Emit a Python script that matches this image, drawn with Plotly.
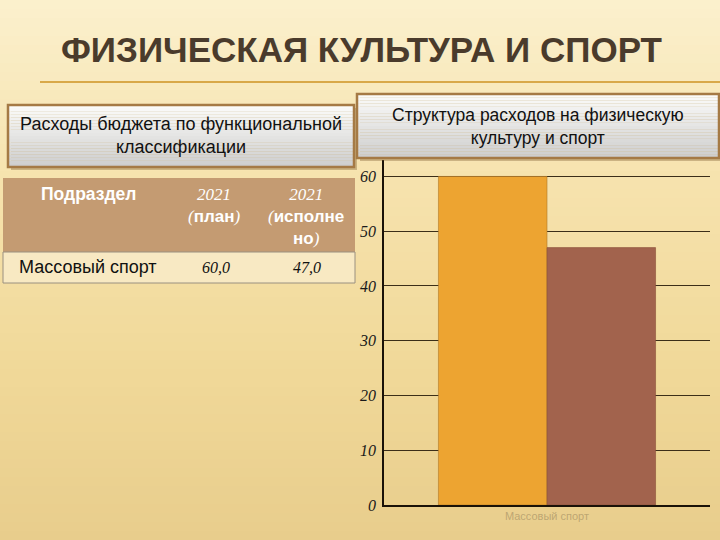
import plotly.graph_objects as go

# ---------------- data ----------------
title_text = "ФИЗИЧЕСКАЯ КУЛЬТУРА И СПОРТ"
left_box_text = "Расходы бюджета по функциональной<br>классификации"
right_box_text = "Структура расходов на физическую<br>культуру и спорт"
category = ["Массовый спорт"]
series_names = ["2021 (план)", "2021 (исполнено)"]
plan_values = [60.0]
fact_values = [47.0]
bar_colors = ["#eda431", "#a2634d"]
y_ticks = [0, 10, 20, 30, 40, 50, 60]

W, H = 720, 540
def px(x):
    return x / W
def py(y):
    return 1 - y / H

fig = go.Figure()

# bars
fig.add_trace(go.Bar(x=category, y=plan_values, name=series_names[0],
                     marker=dict(color=bar_colors[0], line=dict(width=0.6, color="#b07a2a"))))
fig.add_trace(go.Bar(x=category, y=fact_values, name=series_names[1],
                     marker=dict(color=bar_colors[1], line=dict(width=0.6, color="#8a5038"))))

shapes = []

def lerp(c1, c2, t):
    return "rgb(%d,%d,%d)" % tuple(round(a + (b - a) * t) for a, b in zip(c1, c2))

# background vertical gradient
bg_stops = [(0.0, (251, 240, 205)), (0.35, (246, 226, 172)), (0.7, (240, 216, 152)), (1.0, (232, 205, 140))]
n = 60
for i in range(n):
    t = (i + 0.5) / n
    for (t0, c0), (t1, c1) in zip(bg_stops[:-1], bg_stops[1:]):
        if t0 <= t <= t1:
            col = lerp(c0, c1, (t - t0) / (t1 - t0))
            break
    shapes.append(dict(type="rect", xref="paper", yref="paper", layer="below",
                       x0=0, x1=1, y0=1 - i / n, y1=1 - (i + 1) / n,
                       line=dict(width=0), fillcolor=col))

# title underline
shapes.append(dict(type="line", xref="paper", yref="paper", x0=px(40), x1=px(720),
                   y0=py(82), y1=py(82), line=dict(color="#d9a94a", width=2)))

def gradient_box(x0, y0, x1, y1, steps=20):
    # shadow
    shapes.append(dict(type="rect", xref="paper", yref="paper",
                       x0=px(x0 + 3), x1=px(x1 + 3), y0=py(y0 + 3), y1=py(y1 + 3),
                       line=dict(width=0), fillcolor="rgba(120,90,40,0.35)"))
    top, bot = (252, 252, 250), (205, 205, 205)
    for i in range(steps):
        a = y0 + (y1 - y0) * i / steps
        b = y0 + (y1 - y0) * (i + 1) / steps
        shapes.append(dict(type="rect", xref="paper", yref="paper",
                           x0=px(x0), x1=px(x1), y0=py(a), y1=py(b),
                           line=dict(width=0), fillcolor=lerp(top, bot, (i + 0.5) / steps)))
    shapes.append(dict(type="rect", xref="paper", yref="paper",
                       x0=px(x0), x1=px(x1), y0=py(y0), y1=py(y1),
                       line=dict(color="#a57a45", width=2.5), fillcolor="rgba(0,0,0,0)"))

gradient_box(8, 105, 354, 167)
gradient_box(357, 94, 719, 158)

# table
tx0, tx1 = 3, 355
shapes.append(dict(type="rect", xref="paper", yref="paper", x0=px(tx0), x1=px(tx1),
                   y0=py(178), y1=py(252), line=dict(width=0), fillcolor="#c49b72"))
shapes.append(dict(type="rect", xref="paper", yref="paper", x0=px(tx0), x1=px(tx1),
                   y0=py(252), y1=py(283), line=dict(color="#9a9080", width=1),
                   fillcolor="rgba(252,243,220,0.55)"))

annotations = []
annotations.append(dict(text="<b>" + title_text + "</b>", x=px(361), y=py(49), xref="paper", yref="paper",
                        showarrow=False, xanchor="center", yanchor="middle",
                        font=dict(family="Liberation Sans, Arial", size=35, color="#4a3b2c")))
annotations.append(dict(text=left_box_text, x=px(181), y=py(136), xref="paper", yref="paper",
                        showarrow=False, xanchor="center", yanchor="middle", align="center",
                        font=dict(family="Liberation Sans, Arial", size=18, color="#111111")))
annotations.append(dict(text=right_box_text, x=px(538), y=py(126), xref="paper", yref="paper",
                        showarrow=False, xanchor="center", yanchor="middle", align="center",
                        font=dict(family="Liberation Sans, Arial", size=17.5, color="#111111")))

sans = "font-family:Liberation Sans, Arial"
def fmt(v):
    return ("%.1f" % v).replace(".", ",")

# header
annotations.append(dict(text="<b>Подраздел</b>", x=px(88), y=py(194), xref="paper", yref="paper",
                        showarrow=False, xanchor="center", yanchor="middle",
                        font=dict(family="Liberation Sans, Arial", size=17.5, color="#ffffff")))
hdr_col2 = "<i>2021</i><br><i>(</i><span style='%s'><b>план</b></span><i>)</i>" % sans
hdr_col3 = "<i>2021</i><br><i>(</i><span style='%s'><b>исполне</b></span><br><span style='%s'><b>но</b></span><i>)</i>" % (sans, sans)
annotations.append(dict(text=hdr_col2, x=px(214), y=py(183), xref="paper", yref="paper",
                        showarrow=False, xanchor="center", yanchor="top", align="center",
                        font=dict(family="Liberation Serif, Times New Roman", size=17, color="#ffffff")))
annotations.append(dict(text=hdr_col3, x=px(306), y=py(183), xref="paper", yref="paper",
                        showarrow=False, xanchor="center", yanchor="top", align="center",
                        font=dict(family="Liberation Serif, Times New Roman", size=17, color="#ffffff")))
# row
annotations.append(dict(text=category[0], x=px(88), y=py(267), xref="paper", yref="paper",
                        showarrow=False, xanchor="center", yanchor="middle",
                        font=dict(family="Liberation Sans, Arial", size=18, color="#111111")))
annotations.append(dict(text="<i>" + fmt(plan_values[0]) + "</i>", x=px(216), y=py(267), xref="paper", yref="paper",
                        showarrow=False, xanchor="center", yanchor="middle",
                        font=dict(family="Liberation Serif, Times New Roman", size=16, color="#111111")))
annotations.append(dict(text="<i>" + fmt(fact_values[0]) + "</i>", x=px(307), y=py(267), xref="paper", yref="paper",
                        showarrow=False, xanchor="center", yanchor="middle",
                        font=dict(family="Liberation Serif, Times New Roman", size=16, color="#111111")))

fig.update_layout(
    width=W, height=H,
    autosize=False,
    margin=dict(l=0, r=0, t=0, b=0, pad=0, autoexpand=False),
    paper_bgcolor="#e8cd8c",
    plot_bgcolor="rgba(0,0,0,0)",
    showlegend=False,
    barmode="group",
    bargap=0.334,
    bargroupgap=0,
    shapes=shapes,
    annotations=annotations,
    xaxis=dict(domain=[px(384), px(710)], showline=True, linecolor="#1a1208", linewidth=1.5,
               ticks="", showgrid=False, automargin=False,
               tickfont=dict(family="Liberation Sans, Arial", size=11, color="rgba(150,130,90,0.55)")),
    yaxis=dict(domain=[py(505), py(160)], range=[0, 63], tickvals=y_ticks,
               ticktext=["<i>%d</i>" % v for v in y_ticks], automargin=False,
               showline=True, linecolor="#1a1208", linewidth=1.5,
               showgrid=True, gridcolor="#3b2e18", gridwidth=1, zeroline=False,
               ticks="", ticklabelstandoff=3,
               tickfont=dict(family="Liberation Serif, Times New Roman", size=16, color="#1a1a1a")),
)

fig.write_html(
    "out.html",
    config={"displayModeBar": False, "responsive": False},
    post_script="document.documentElement.style.margin='0px';document.body.style.margin='0px';"
                "document.body.style.overflow='hidden';document.documentElement.style.overflow='hidden';",
)
